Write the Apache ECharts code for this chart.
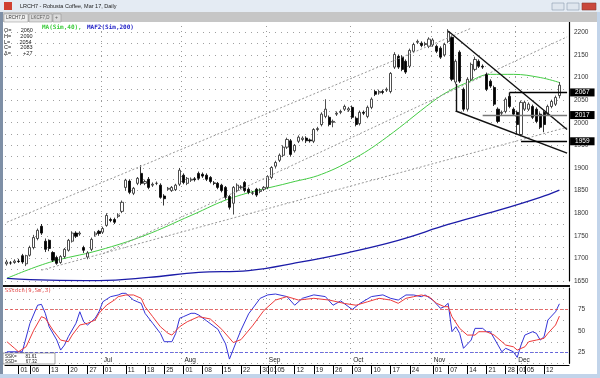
<!DOCTYPE html>
<html>
<head>
<meta charset="utf-8">
<title>LRCH7 - Robusta Coffee, Mar 17, Daily</title>
<script src="https://cdn.jsdelivr.net/npm/echarts@6/dist/echarts.min.js"></script>
<style>
html, body { margin: 0; padding: 0; background: #fff; }
#main { width: 600px; height: 378px; }
</style>
</head>
<body>
<div id="main"></div>
<script>
// trading days (2016)
var dates = [
  '05-26','05-27','05-31',
  '06-01','06-02','06-03','06-06','06-07','06-08','06-09','06-10','06-13','06-14','06-15','06-16','06-17','06-20','06-21','06-22','06-23','06-24','06-27','06-28','06-29','06-30',
  '07-01','07-04','07-05','07-06','07-07','07-08','07-11','07-12','07-13','07-14','07-15','07-18','07-19','07-20','07-21','07-22','07-25','07-26','07-27','07-28','07-29',
  '08-01','08-02','08-03','08-04','08-05','08-08','08-09','08-10','08-11','08-12','08-15','08-16','08-17','08-18','08-19','08-22','08-23','08-24','08-25','08-26','08-30','08-31',
  '09-01','09-02','09-05','09-06','09-07','09-08','09-09','09-12','09-13','09-14','09-15','09-16','09-19','09-20','09-21','09-22','09-23','09-26','09-27','09-28','09-29','09-30',
  '10-03','10-04','10-05','10-06','10-07','10-10','10-11','10-12','10-13','10-14','10-17','10-18','10-19','10-20','10-21','10-24','10-25','10-26','10-27','10-28','10-31',
  '11-01','11-02','11-03','11-04','11-07','11-08','11-09','11-10','11-11','11-14','11-15','11-16','11-17','11-18','11-21','11-22','11-23','11-24','11-25','11-28','11-29','11-30',
  '12-01','12-02','12-05','12-06','12-07','12-08','12-09','12-12','12-13','12-14','12-15','12-16'
];
// empty slots on the right
var blankDays = ['12-19', '12-20'];

// open, close, low, high
var ohlc = [
  [1688,1692,1684,1697],[1690,1690,1686,1694],[1691,1694,1688,1698],[1694,1693,1690,1699],[1706,1692,1688,1710],
  [1688,1706,1683,1708],[1707,1724,1704,1728],[1724,1746,1720,1752],[1744,1762,1740,1766],[1771,1756,1752,1776],
  [1738,1720,1714,1744],[1740,1722,1716,1742],[1713,1696,1692,1716],[1702,1689,1686,1706],[1691,1704,1688,1707],
  [1704,1720,1700,1723],[1718,1740,1715,1743],[1738,1756,1735,1760],[1756,1749,1745,1760],[1754,1756,1750,1760],
  [1724,1718,1712,1728],[1703,1712,1698,1716],[1720,1742,1716,1746],[1752,1756,1748,1760],[1760,1755,1750,1763],
  [1758,1766,1754,1770],[1773,1795,1770,1800],[1786,1784,1780,1790],[1786,1780,1776,1790],[1793,1796,1789,1800],
  [1804,1824,1800,1828],[1857,1873,1850,1876],[1871,1846,1842,1875],[1844,1855,1840,1858],[1866,1877,1862,1880],
  [1888,1866,1862,1906],[1866,1870,1862,1874],[1875,1857,1853,1880],[1862,1864,1858,1868],[1866,1866,1862,1870],
  [1862,1835,1832,1866],[1838,1832,1817,1842],[1853,1855,1850,1858],[1850,1857,1847,1860],[1852,1862,1849,1865],
  [1864,1895,1860,1900],[1884,1868,1864,1888],[1866,1877,1862,1880],[1873,1875,1869,1879],[1876,1874,1870,1880],
  [1888,1877,1873,1892],[1886,1882,1878,1890],[1884,1875,1871,1888],[1879,1870,1866,1882],[1867,1866,1862,1871],
  [1866,1857,1853,1869],[1862,1850,1846,1865],[1857,1835,1830,1860],[1837,1813,1808,1840],[1822,1857,1797,1860],
  [1850,1862,1846,1866],[1857,1858,1853,1862],[1868,1850,1846,1871],[1853,1846,1842,1857],[1844,1845,1840,1849],
  [1853,1840,1836,1856],[1848,1851,1844,1855],[1853,1857,1849,1860],[1857,1881,1853,1884],[1879,1901,1875,1904],
  [1904,1912,1900,1916],[1917,1928,1913,1932],[1928,1946,1924,1950],[1946,1963,1942,1967],[1960,1930,1925,1964],
  [1938,1950,1934,1953],[1959,1968,1955,1972],[1963,1966,1959,1970],[1966,1960,1955,1970],[1962,1960,1956,1965],
  [1959,1985,1955,1988],[1985,1987,1981,1991],[1996,2019,1992,2023],[2014,2030,2010,2052],[2012,1996,1992,2016],
  [2001,2003,1990,2007],[2019,2021,2015,2025],[2023,2025,2019,2029],[2030,2036,2026,2040],[2028,2031,2024,2035],
  [2034,2012,2008,2038],[2010,1996,1992,2014],[1998,2023,1994,2027],[2023,2021,2017,2027],[2014,2034,2010,2038],
  [2034,2052,2030,2056],[2069,2063,2059,2073],[2066,2069,2062,2073],[2069,2067,2063,2073],[2072,2074,2068,2078],
  [2069,2109,2065,2112],[2123,2151,2119,2156],[2147,2123,2119,2151],[2145,2118,2114,2149],[2136,2112,2108,2140],
  [2125,2160,2121,2164],[2158,2173,2154,2177],[2178,2180,2174,2184],[2176,2171,2167,2180],[2173,2175,2169,2179],
  [2169,2185,2165,2189],[2172,2183,2168,2187],[2169,2158,2154,2173],[2165,2145,2141,2169],[2150,2173,2146,2177],
  [2180,2200,2176,2207],[2189,2096,2092,2193],[2090,2136,2085,2140],[2156,2092,2088,2160],[2074,2030,2025,2078],
  [2030,2096,2026,2100],[2096,2129,2092,2133],[2118,2140,2114,2146],[2136,2125,2121,2140],[2125,2123,2119,2129],
  [2107,2074,2070,2111],[2092,2081,2077,2096],[2078,2041,2037,2082],[2030,2003,1999,2034],[2021,2023,2017,2027],
  [2025,2052,2021,2056],[2058,2036,2032,2062],[2030,2019,2015,2034],[2023,1996,1974,2027],[1974,2045,1970,2049],
  [2030,2045,2026,2049],[2030,2041,2026,2045],[2036,2012,2008,2040],[2030,2003,1999,2034],[2019,1990,1986,2023],
  [2023,1996,1979,2027],[2019,2036,2015,2040],[2036,2047,2032,2051],[2041,2056,2037,2060],[2060,2083,2054,2090]
];

// moving averages read at [bar index, value]
var ma40 = [[0,1656],[11,1691],[24,1718],[36,1751],[48,1795],[59,1835],[74,1868],[82,1886],[91,1923],
  [99,1968],[111,2047],[115,2069],[120,2089],[126,2107],[132,2107],[139,2100],[144,2089]];
var ma200 = [[0,1656],[11,1652],[24,1651],[37,1658],[50,1669],[63,1673],[76,1691],[89,1713],[102,1740],
  [115,1775],[128,1806],[139,1835],[144,1851]];

// slow stochastic %K and %D at [bar index, value]
var stochK = [[0,25.9],[4,25.9],[6,59],[8,80],[9,81],[10,70.6],[11,55],[13,39.5],[14,27.9],[15,33.7],[16,43.4],
  [18,59],[19,72.4],[20,60.8],[21,57],[23,64.8],[24,72.4],[25,84],[27,89.9],[29,91.9],[30,93.8],[31,93.8],
  [33,86],[34,84],[35,82.2],[36,70.6],[38,59],[40,47.3],[41,37.6],[43,37.6],[44,47.3],[45,64.8],[46,66.7],
  [48,70.6],[49,70.6],[50,68.6],[52,62],[55,52],[57,35],[58,17.4],[60,40],[61,51],[63,70],[66,88],[68,92],[70,93],
  [73,90],[75,80],[77,88],[80,92],[83,90],[85,80],[87,85],[90,75],[92,82],[95,90],[98,92],[100,88],
  [102,86],[104,91.9],[106,91.9],[108,89.9],[109,91.9],[111,86],[113,76.4],[114,78.3],[115,82.2],[116,49.2],
  [117,55],[118,47.3],[119,29.9],[121,39.5],[122,53.1],[124,53.1],[125,49.2],[126,49.2],[128,33.7],[129,25.9],
  [130,29.9],[132,25.9],[133,19.4],[134,33.7],[135,45.3],[137,49.2],[138,47.3],[139,39.5],[140,43.4],
  [141,62.8],[143,72.4],[144,81.61]];
var stochD = [[0,37.6],[2,29.9],[3,25.9],[5,31.7],[7,51],[9,66.7],[10,64.8],[12,51],[14,39.5],[16,37.6],
  [17,45.3],[19,57],[21,59],[23,62.8],[24,70.6],[26,80.2],[28,86],[29,89.9],[31,91.9],[33,91.9],[35,88],
  [36,78.3],[38,66.7],[40,55],[42,47.3],[43,45.3],[45,55],[47,60.8],[49,64.8],[50,66.7],[53,64],[56,52],
  [59,36.6],[61,40],[64,56],[67,74],[70,86],[73,90],[76,86],[80,88],[84,86],[88,82],[91,80],[94,84],[97,88],
  [100,86],[102,82.2],[104,88],[106,89.9],[108,91.9],[110,89.9],[112,82.2],[114,78.3],[115,78.3],[116,66.7],
  [118,53.1],[120,45.3],[122,45.3],[123,49.2],[125,49.2],[127,45.3],[129,37.6],[130,33.7],[132,31.7],
  [133,27.9],[135,31.7],[136,37.6],[138,39.5],[140,41.5],[141,47.3],[143,57],[144,67.32]];

// date axis labels
var dayTicks = ['06-01','06-06','06-13','06-20','06-27','07-01','07-11','07-18','07-25','08-01','08-08',
  '08-15','08-22','08-30','09-01','09-05','09-12','09-19','09-26','10-03','10-10','10-17','10-24','11-01',
  '11-07','11-14','11-21','11-28','12-01','12-05','12-12'];
var monthStarts = ['07-01','08-01','09-01','10-03','11-01','12-01'];
var monthNames = ['Jul','Aug','Sep','Oct','Nov','Dec'];

// drawn studies: [[bar, price], [bar, price]]
var channelLines = [
  [[0,1780],[121,2209]],
  [[25,1710],[146,2190]],
  [[9,1674],[146,1990]]
];
var triangleLines = [
  [[115.2,2203],[146,1985]],
  [[117,2026],[146,1933]],
  [[117,2086],[117,2026]],
  [[130.6,2067],[130.6,2045]]
];
// horizontal levels: [from bar, price, colour]
var levelLines = [[130.6,2067,'#000'],[124,2017,'#777'],[133.5,1959,'#000']];

var myChart = echarts.init(document.getElementById('main'));
var cats = dates.concat(blankDays);
var last = ohlc[ohlc.length - 1];
var prevClose = ohlc[ohlc.length - 2][1];
var lastK = stochK[stochK.length - 1][1];
var lastD = stochD[stochD.length - 1][1];
var FONT = 'Liberation Sans';

function isMonthStart(i) { return monthStarts.indexOf(cats[i]) >= 0; }
function isDayTick(i) { return dayTicks.indexOf(cats[i]) >= 0; }

var studyLines = [];
channelLines.forEach(function (l) {
  studyLines.push([{coord: l[0], lineStyle: {color: '#999', width: 1, type: [2, 2]}}, {coord: l[1]}]);
});
triangleLines.forEach(function (l) {
  studyLines.push([{coord: l[0], lineStyle: {color: '#111', width: 1.4, type: 'solid'}}, {coord: l[1]}]);
});
levelLines.forEach(function (l) {
  studyLines.push([
    {coord: [l[0], l[1]], lineStyle: {color: l[2], width: 1.4, type: 'solid'},
     label: {show: true, position: 'end', formatter: String(l[1]), color: '#fff', backgroundColor: '#000',
       fontSize: 6.5, fontFamily: FONT, padding: [1, 5, 0, 5], distance: 3}},
    {coord: [cats.length - 1, l[1]]}
  ]);
});

var option = {
  animation: false,
  backgroundColor: '#fff',
  textStyle: {fontFamily: FONT},
  grid: [
    {left: 5, width: 564, top: 21, height: 260},
    {left: 5, width: 564, top: 288, height: 75.3}
  ],
  xAxis: [
    {
      type: 'category', gridIndex: 0, data: cats,
      axisLine: {show: false}, axisTick: {show: false}, axisLabel: {show: false},
      splitLine: {show: true, interval: isMonthStart, lineStyle: {color: '#9a9a9a', type: [1, 4]}}
    },
    {
      type: 'category', gridIndex: 1, data: cats, offset: 1.7,
      axisLine: {show: true, lineStyle: {color: '#000', width: 1}},
      axisTick: {show: true, interval: isDayTick, alignWithLabel: true, length: 9, lineStyle: {color: '#000'}},
      axisLabel: {interval: isDayTick, formatter: function (v) { return v.slice(3); },
        align: 'left', padding: [0, 0, 0, 2], margin: 2, fontSize: 6.5, color: '#222'},
      splitLine: {show: true, interval: isMonthStart, lineStyle: {color: '#9a9a9a', type: [1, 4]}}
    },
    {
      type: 'category', gridIndex: 1, data: cats, offset: 1.7, position: 'bottom',
      axisLine: {show: false}, axisTick: {show: false},
      axisLabel: {inside: true, interval: isMonthStart, margin: 1, fontSize: 6.5, color: '#222',
        align: 'left', padding: [0, 0, 0, 1],
        formatter: function (v) { return monthNames[monthStarts.indexOf(v)] || ''; }}
    }
  ],
  yAxis: [
    {
      type: 'value', gridIndex: 0, position: 'right', min: 1650, max: 2225, interval: 25,
      axisLine: {show: true, lineStyle: {color: '#000', width: 1.2}},
      axisTick: {show: false},
      axisLabel: {margin: 5, fontSize: 6.5, color: '#333',
        formatter: function (v) { return v % 50 === 0 ? v : ''; }},
      splitLine: {lineStyle: {color: '#a0a0a0', type: [1, 5]}}
    },
    {
      type: 'value', gridIndex: 1, position: 'right', min: 12.5, max: 100, interval: 12.5,
      axisLine: {show: true, lineStyle: {color: '#000', width: 1.2}},
      axisTick: {show: false},
      axisLabel: {margin: 9, fontSize: 6.5, color: '#333',
        formatter: function (v) { return (v === 25 || v === 50 || v === 75) ? v : ''; }},
      splitLine: {lineStyle: {color: '#a0a0a0', type: [1, 5]}}
    }
  ],
  series: [
    {
      name: 'LRCH7', type: 'candlestick', xAxisIndex: 0, yAxisIndex: 0, data: ohlc,
      barWidth: 2.6,
      itemStyle: {color: '#fff', color0: '#000', borderColor: '#222', borderColor0: '#000', borderWidth: 0.8},
      markLine: {silent: true, symbol: ['none', 'none'], label: {show: false}, data: studyLines}
    },
    {
      name: 'MA(Sim,40)', type: 'line', xAxisIndex: 0, yAxisIndex: 0, data: ma40,
      showSymbol: false, smooth: 0.4, lineStyle: {color: '#44cc44', width: 1}, z: 1
    },
    {
      name: 'MAF2(Sim,200)', type: 'line', xAxisIndex: 0, yAxisIndex: 0, data: ma200,
      showSymbol: false, smooth: 0.4, lineStyle: {color: '#1c1ca8', width: 1.3}, z: 1
    },
    {
      name: '%K', type: 'line', xAxisIndex: 1, yAxisIndex: 1, data: stochK,
      showSymbol: false, lineStyle: {color: '#3434d8', width: 1},
      markLine: {
        silent: true, symbol: ['none', 'none'],
        data: [
          {yAxis: 75, lineStyle: {color: '#e04848', type: [3, 2], width: 0.8}, label: {show: false}},
          {yAxis: 25, lineStyle: {color: '#4848d8', type: [3, 2], width: 0.8}, label: {show: false}},
          {yAxis: lastK, lineStyle: {opacity: 0},
            label: {show: true, position: 'end', formatter: lastK.toFixed(1), color: '#fff',
              backgroundColor: '#1414f0', fontSize: 6.5, padding: [1, 6, 0, 6], distance: 2}}
        ]
      }
    },
    {
      name: '%D', type: 'line', xAxisIndex: 1, yAxisIndex: 1, data: stochD,
      showSymbol: false, lineStyle: {color: '#ee3a3a', width: 1},
      markLine: {
        silent: true, symbol: ['none', 'none'],
        data: [
          {yAxis: lastD, lineStyle: {opacity: 0},
            label: {show: true, position: 'end', formatter: lastD.toFixed(1), color: '#fff',
              backgroundColor: '#f01414', fontSize: 6.5, padding: [1, 6, 0, 6], distance: 2}}
        ]
      }
    }
  ],
  graphic: [
    // window title bar
    {type: 'rect', shape: {x: 0, y: 0, width: 600, height: 12}, style: {fill: '#e4ebf3'}, z: 100},
    {type: 'rect', shape: {x: 4, y: 2, width: 8, height: 8}, style: {fill: '#d04030'}, z: 101},
    {type: 'text', x: 20, y: 6, style: {text: 'LRCH7 - Robusta Coffee, Mar 17, Daily', fill: '#222',
      font: '5.5px ' + FONT, textVerticalAlign: 'middle'}, z: 101},
    {type: 'rect', shape: {x: 552, y: 3, width: 12, height: 7}, style: {fill: '#dfe6ee', stroke: '#8a9ab0', lineWidth: 0.6}, z: 101},
    {type: 'rect', shape: {x: 567, y: 3, width: 12, height: 7}, style: {fill: '#dfe6ee', stroke: '#8a9ab0', lineWidth: 0.6}, z: 101},
    {type: 'rect', shape: {x: 582, y: 3, width: 14, height: 7}, style: {fill: '#c9483c', stroke: '#8a3a30', lineWidth: 0.6}, z: 101},
    // tab strip
    {type: 'rect', shape: {x: 0, y: 12, width: 600, height: 10}, style: {fill: '#c6c6c6'}, z: 100},
    {type: 'rect', shape: {x: 4, y: 14, width: 24, height: 8}, style: {fill: '#efefef', stroke: '#888', lineWidth: 0.5}, z: 101},
    {type: 'text', x: 6, y: 18, style: {text: 'LRCH7,D', fill: '#333', font: '4.5px ' + FONT, textVerticalAlign: 'middle'}, z: 102},
    {type: 'rect', shape: {x: 29, y: 14, width: 23, height: 8}, style: {fill: '#dadada', stroke: '#888', lineWidth: 0.5}, z: 101},
    {type: 'text', x: 31, y: 18, style: {text: 'LKCF7,D', fill: '#555', font: '4.5px ' + FONT, textVerticalAlign: 'middle'}, z: 102},
    {type: 'rect', shape: {x: 53, y: 14, width: 8, height: 8}, style: {fill: '#dadada', stroke: '#888', lineWidth: 0.5}, z: 101},
    {type: 'text', x: 55, y: 18, style: {text: '+', fill: '#555', font: '5px ' + FONT, textVerticalAlign: 'middle'}, z: 102},
    // window borders
    {type: 'rect', shape: {x: 0, y: 12, width: 3, height: 366}, style: {fill: '#7e8fa6'}, z: 100},
    {type: 'rect', shape: {x: 597, y: 12, width: 3, height: 366}, style: {fill: '#c2d4ea'}, z: 100},
    {type: 'rect', shape: {x: 0, y: 374, width: 600, height: 4}, style: {fill: '#c2d4ea'}, z: 100},
    // panel separator
    {type: 'rect', shape: {x: 3, y: 285, width: 567, height: 2}, style: {fill: '#111'}, z: 50},
    // data box
    {type: 'text', x: 4, y: 28, style: {
      text: 'O=      ' + last[0] + '\nH=      ' + last[3] + '\nL=      ' + last[2] + '\nC=      ' + last[1] +
        '\nΔ=        ' + (last[1] - prevClose > 0 ? '+' : '') + (last[1] - prevClose),
      fill: '#222', font: '5.5px ' + FONT, lineHeight: 5.6, textVerticalAlign: 'top'}, z: 60},
    {type: 'text', x: 42, y: 27, style: {text: 'MA(Sim,40),', fill: '#3ccc3c', font: 'bold 6px DejaVu Sans Mono', textVerticalAlign: 'middle'}, z: 60},
    {type: 'text', x: 87, y: 27, style: {text: 'MAF2(Sim,200)', fill: '#2424c8', font: 'bold 6px DejaVu Sans Mono', textVerticalAlign: 'middle'}, z: 60},
    // stochastic caption and readout
    {type: 'text', x: 5, y: 291, style: {text: 'SStoch(9,Sm,3)', fill: '#e03a3a', font: '5.5px DejaVu Sans Mono', textVerticalAlign: 'middle'}, z: 60},
    {type: 'rect', shape: {x: 3, y: 353, width: 52, height: 11}, style: {fill: '#fff', stroke: '#444', lineWidth: 0.5}, z: 60},
    {type: 'text', x: 5, y: 354, style: {text: 'SSK=       ' + lastK.toFixed(2) + '\nSSD=       ' + lastD.toFixed(2),
      fill: '#222', font: '4.5px ' + FONT, lineHeight: 5, textVerticalAlign: 'top'}, z: 61}
  ]
};
myChart.setOption(option);
</script>
</body>
</html>
